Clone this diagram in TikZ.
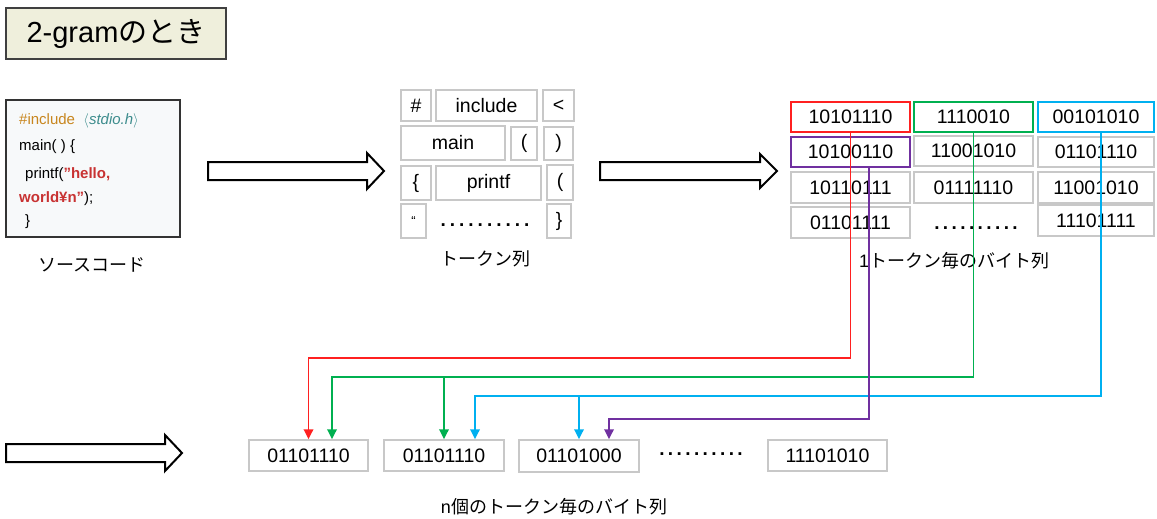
\documentclass[tikz,border=0pt]{standalone}
\usepackage{fontspec}
\setmainfont{Liberation Sans}
\newfontfamily\jp{Noto Sans CJK JP}
\usetikzlibrary{arrows.meta,calc}

\definecolor{boxgray}{HTML}{C8C8C8}
\definecolor{titlefill}{HTML}{EFEFDC}
\definecolor{codefill}{HTML}{F7F9FA}
\definecolor{incl}{HTML}{C8861E}
\definecolor{hdr}{HTML}{3C8C8C}
\definecolor{strred}{HTML}{C83232}
\definecolor{cred}{HTML}{FF2020}
\definecolor{cgreen}{HTML}{00B050}
\definecolor{cblue}{HTML}{00B0F0}
\definecolor{cpurple}{HTML}{7030A0}

% a row of ten bold dots with a given gap
\newcommand\dotrun[1]{\bfseries\foreach \i in {1,...,9}{.\hspace{#1}}.}

\begin{document}
\begin{tikzpicture}[x=1pt,y=-1pt,
  tok/.style={draw=boxgray, line width=1.5pt, inner sep=0pt,
    font=\fontsize{19.5}{22}\selectfont},
  codeline/.style={anchor=base west, inner sep=0pt, font=\fontsize{15}{18}\selectfont},
  caption/.style={inner sep=0pt, font=\fontsize{18}{22}\selectfont},
  blockarrow/.style={draw=black, fill=white, line width=2pt, line join=miter},
  conn/.style={line width=1.8pt, -{Triangle[width=9.5pt,length=10pt]}},
  branch/.style={line width=1.8pt, -{Triangle[width=9.5pt,length=10pt]}}]
\useasboundingbox (0,0) rectangle (1157,519);

% title
\node[draw=black!75, line width=1.5pt, fill=titlefill, minimum width=220pt,
  minimum height=51pt, inner sep=0pt, font=\fontsize{29}{35}\selectfont]
  (title) at (116,33.5) {2-gram{\jp のとき}};

% source code
\node[draw=black!80, line width=2pt, fill=codefill, minimum width=174pt,
  minimum height=137pt, inner sep=0pt] (src) at (93,168.5) {};
\node[codeline] (c1) at (19,124.5) {{\color{incl}\#include}\ \ {\color{hdr}\itshape $\langle$stdio.h$\rangle$}};
\node[codeline] (c2) at (19,150.5) {main( ) \{};
\node[codeline] (c3) at (25,178.5) {printf({\color{strred}\bfseries ”hello,}};
\node[codeline] (c4) at (19,202) {{\color{strred}\bfseries world¥n”});};
\node[codeline] (c5) at (25,225.5) {\}};
\node[caption] (srclabel) at (92,265) {\jp ソースコード};

% block arrows
\draw[blockarrow] (208,162) -- (367,162) -- (367,153) -- (384,171) -- (367,189) -- (367,180) -- (208,180) -- cycle;
\draw[blockarrow] (600,162) -- (760,162) -- (760,154) -- (777,171) -- (760,188) -- (760,180) -- (600,180) -- cycle;
\draw[blockarrow] (6,444) -- (165,444) -- (165,435) -- (182,453) -- (165,471) -- (165,462) -- (6,462) -- cycle;

% tokens
\node[tok, minimum width=30pt, minimum height=31pt] (t11) at (416,105.5) {\#};
\node[tok, minimum width=101pt, minimum height=31pt] (t12) at (486.5,105.5) {include};
\node[tok, minimum width=31pt, minimum height=31pt] (t13) at (558.5,105.5) {<};
\node[tok, minimum width=104pt, minimum height=34pt] (t21) at (453,143) {main};
\node[tok, minimum width=26pt, minimum height=33pt] (t22) at (524,143.5) {(};
\node[tok, minimum width=29pt, minimum height=33pt] (t23) at (558.5,143.5) {)};
\node[tok, minimum width=30pt, minimum height=34pt] (t31) at (416,183) {\{};
\node[tok, minimum width=105pt, minimum height=34pt] (t32) at (488.5,183) {printf};
\node[tok, minimum width=26pt, minimum height=35pt] (t33) at (560,182.5) {(};
\node[tok, minimum width=25pt, minimum height=34pt, font=\fontsize{13}{16}\selectfont] (t41) at (413.5,221) {“};
\node[tok, minimum width=24pt, minimum height=34pt] (t43) at (559,221) {\}};
\node[inner sep=0pt, anchor=base, font=\fontsize{19}{22}\selectfont] (tdots) at (485,226) {\dotrun{4pt}};
\node[caption] (toklabel) at (485,259) {\jp トークン列};

% bytes of each token
\node[tok, draw=cred, line width=2pt, minimum width=119pt, minimum height=30pt] (b11) at (850.5,117) {10101110};
\node[tok, draw=cpurple, line width=2pt, minimum width=119pt, minimum height=30pt] (b12) at (850.5,152) {10100110};
\node[tok, minimum width=119pt, minimum height=31pt] (b13) at (850.5,187.5) {10110111};
\node[tok, minimum width=119pt, minimum height=31pt] (b14) at (850.5,222.5) {01101111};
\node[tok, draw=cgreen, line width=2pt, minimum width=119pt, minimum height=30pt] (b21) at (973.5,117) {1110010};
\node[tok, minimum width=119pt, minimum height=30pt] (b22) at (973.5,151) {11001010};
\node[tok, minimum width=119pt, minimum height=31pt] (b23) at (973.5,187.5) {01111110};
\node[inner sep=0pt, anchor=base, font=\fontsize{19}{22}\selectfont] (bdots) at (976,229) {\dotrun{3.4pt}};
\node[tok, draw=cblue, line width=2pt, minimum width=116pt, minimum height=30pt] (b31) at (1096,117) {00101010};
\node[tok, minimum width=116pt, minimum height=30pt] (b32) at (1096,152) {01101110};
\node[tok, minimum width=116pt, minimum height=31pt] (b33) at (1096,187.5) {11001010};
\node[tok, minimum width=116pt, minimum height=31pt] (b34) at (1096,220.5) {11101111};
\node[caption] (bytelabel) at (954,261) {1{\jp トークン毎のバイト列}};

% bytes of the n-gram
\node[tok, minimum width=119pt, minimum height=31pt] (o1) at (308.5,455.5) {01101110};
\node[tok, minimum width=120pt, minimum height=31pt] (o2) at (444,455.5) {01101110};
\node[tok, minimum width=120pt, minimum height=32pt] (o3) at (579,456) {01101000};
\node[inner sep=0pt, anchor=base, font=\fontsize{19}{22}\selectfont] (odots) at (701,455) {\dotrun{3.4pt}};
\node[tok, minimum width=119pt, minimum height=31pt] (o4) at (827.5,455.5) {11101010};
\node[caption] (ngramlabel) at (554,507) {n{\jp 個のトークン毎のバイト列}};

% connectors
\draw[conn, cred] (b11.south) -- ++(0,225) -| (o1.north);
\draw[conn, cgreen] (b21.south) -- ++(0,244) coordinate (gj) -| ([xshift=23.5pt]o1.north);
\draw[branch, cgreen] (o2.north |- gj) -- (o2.north);
\draw[conn, cblue] ([xshift=5pt]b31.south) -- ++(0,263) coordinate (bj) -| ([xshift=31pt]o2.north);
\draw[branch, cblue] (o3.north |- bj) -- (o3.north);
\draw[conn, cpurple] ([xshift=18.5pt]b12.south) -- ++(0,251) -| ([xshift=30pt]o3.north);
\end{tikzpicture}
\end{document}
